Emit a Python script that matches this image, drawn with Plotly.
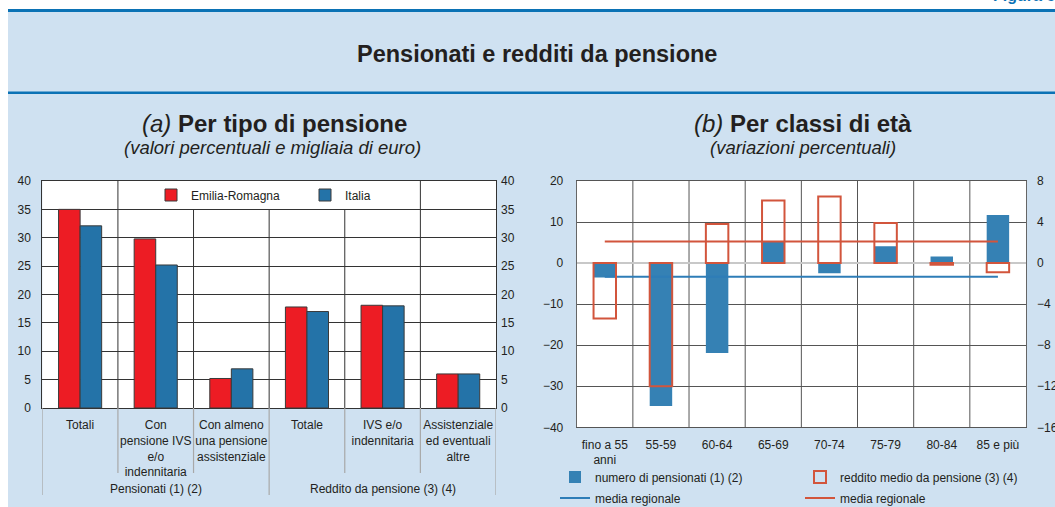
import plotly.graph_objects as go

W, H = 1055, 507

# ---------------- data: panel (a) ----------------
cat_a = ["Totali", "Con<br>pensione IVS<br>e/o<br>indennitaria", "Con almeno<br>una pensione<br>assistenziale",
         "Totale", "IVS e/o<br>indennitaria", "Assistenziale<br>ed eventuali<br>altre"]
groups_a = ["Pensionati (1) (2)", "Reddito da pensione (3) (4)"]
group_sizes = [3, 3]
emilia = [35.0, 29.8, 5.2, 17.8, 18.1, 6.0]
italia = [32.1, 25.2, 6.9, 17.0, 18.0, 6.0]

# ---------------- data: panel (b) ----------------
cat_b = ["fino a 55<br>anni", "55-59", "60-64", "65-69", "70-74", "75-79", "80-84", "85 e più"]
numero = [-3.5, -34.8, -21.9, 5.2, -2.5, 4.1, 1.6, 11.7]
reddito = [-5.4, -12.0, 3.8, 6.1, 6.5, 3.9, -0.15, -0.9]
media_numero = -3.3
media_reddito = 2.1

FONT = "Liberation Sans, Arial, sans-serif"
TXT = "#231F20"
RED = "#ED1C24"
BLUE_A = "#2473A8"
BLUE_B = "#3581B4"
RED_B = "#D2553C"
LBLUE = "#CFE1F1"
DBLUE = "#0B72B5"


def px(x):
    return x / W


def py(y):
    return 1 - y / H


fig = go.Figure()

xa = list(range(len(cat_a)))
fig.add_trace(go.Bar(x=xa, y=emilia, name="Emilia-Romagna", xaxis="x", yaxis="y",
                     marker=dict(color=RED, line=dict(color="#3A3A3A", width=1)),
                     width=0.285, offset=-0.285, legend="legend"))
fig.add_trace(go.Bar(x=xa, y=italia, name="Italia", xaxis="x", yaxis="y2",
                     marker=dict(color=BLUE_A, line=dict(color="#3A3A3A", width=1)),
                     width=0.285, offset=0.0, legend="legend"))

xb = list(range(len(cat_b)))
fig.add_trace(go.Bar(x=xb, y=numero, name="numero di pensionati (1) (2)", xaxis="x2", yaxis="y3",
                     marker=dict(color=BLUE_B, line=dict(width=0)),
                     width=0.4, offset=-0.2, legend="legend2"))
fig.add_trace(go.Bar(x=xb, y=reddito, name="reddito medio da pensione (3) (4)", xaxis="x2", yaxis="y4",
                     marker=dict(color="rgba(0,0,0,0)", line=dict(color=RED_B, width=2)),
                     width=0.4, offset=-0.2, legend="legend2"))
fig.add_trace(go.Scatter(x=xb, y=[media_numero] * len(xb), name="media regionale", xaxis="x2", yaxis="y3",
                         mode="lines", line=dict(color="#2E7DB7", width=2), legend="legend3"))
fig.add_trace(go.Scatter(x=xb, y=[media_reddito] * len(xb), name="media regionale", xaxis="x2", yaxis="y4",
                         mode="lines", line=dict(color=RED_B, width=2), legend="legend3"))

tickfont = dict(family=FONT, size=12, color=TXT)

shapes = []
# white margins and blue header lines
shapes.append(dict(type="rect", xref="paper", yref="paper", x0=0, x1=px(8), y0=0, y1=1,
                   fillcolor="white", line=dict(width=0), layer="below"))
shapes.append(dict(type="rect", xref="paper", yref="paper", x0=0, x1=1, y0=py(9), y1=1,
                   fillcolor="white", line=dict(width=0), layer="below"))
shapes.append(dict(type="rect", xref="paper", yref="paper", x0=px(8), x1=1, y0=py(12), y1=py(9),
                   fillcolor=DBLUE, line=dict(width=0), layer="below"))
shapes.append(dict(type="rect", xref="paper", yref="paper", x0=px(8), x1=1, y0=py(94), y1=py(91.5),
                   fillcolor=DBLUE, line=dict(width=0), layer="below"))

# panel (a) category separators inside the plot
for k in range(len(cat_a) - 1):
    top = 35 if 1 <= k <= 3 else 40
    shapes.append(dict(type="line", xref="x", yref="y", x0=k + 0.5, x1=k + 0.5, y0=0, y1=top,
                       line=dict(color="#333333", width=1), layer="below"))
# panel (a) separators below the axis
bounds = [0]
for g in group_sizes:
    bounds.append(bounds[-1] + g)
for k in range(len(cat_a) + 1):
    long_line = k in bounds
    shapes.append(dict(type="line", xref="x", yref="paper", x0=k - 0.5, x1=k - 0.5,
                       y0=py(408), y1=py(495 if long_line else 473),
                       line=dict(color="#A8A8A8", width=1.2)))
# panel (b) category separators
for k in range(len(cat_b) - 1):
    shapes.append(dict(type="line", xref="x2", yref="y3", x0=k + 0.5, x1=k + 0.5, y0=-40, y1=20,
                       line=dict(color="#555555", width=1), layer="below"))

annotations = []
annotations.append(dict(text="<b>Pensionati e redditi da pensione</b>", xref="paper", yref="paper",
                        x=px(537), y=py(54), xanchor="center", yanchor="middle", showarrow=False,
                        font=dict(family=FONT, size=23.5, color=TXT)))
annotations.append(dict(text="<b>Figura 6.</b>", xref="paper", yref="paper",
                        x=px(1062), y=py(6), xanchor="right", yanchor="bottom", showarrow=False,
                        font=dict(family=FONT, size=16, color=DBLUE)))
annotations.append(dict(text="<i>(a)</i> <b>Per tipo di pensione</b>", xref="paper", yref="paper",
                        x=px(274), y=py(123), xanchor="center", yanchor="middle", showarrow=False,
                        font=dict(family=FONT, size=24, color=TXT)))
annotations.append(dict(text="<i>(valori percentuali e migliaia di euro)</i>", xref="paper", yref="paper",
                        x=px(272), y=py(148), xanchor="center", yanchor="middle", showarrow=False,
                        font=dict(family=FONT, size=18.5, color=TXT)))
annotations.append(dict(text="<i>(b)</i> <b>Per classi di età</b>", xref="paper", yref="paper",
                        x=px(803), y=py(123), xanchor="center", yanchor="middle", showarrow=False,
                        font=dict(family=FONT, size=24, color=TXT)))
annotations.append(dict(text="<i>(variazioni percentuali)</i>", xref="paper", yref="paper",
                        x=px(803), y=py(148), xanchor="center", yanchor="middle", showarrow=False,
                        font=dict(family=FONT, size=18.5, color=TXT)))
start = 0
for g, n in zip(groups_a, group_sizes):
    annotations.append(dict(text=g, xref="x", yref="paper", x=start + (n - 1) / 2, y=py(489),
                            xanchor="center", yanchor="middle", showarrow=False, font=tickfont))
    start += n

legend_common = dict(orientation="h", bgcolor="rgba(0,0,0,0)", font=tickfont, xanchor="left",
                     yanchor="middle", itemwidth=30, traceorder="normal", entrywidthmode="pixels")

fig.update_layout(
    width=W, height=H, autosize=False,
    margin=dict(l=0, r=0, t=0, b=0, pad=0, autoexpand=False),
    paper_bgcolor=LBLUE, plot_bgcolor="white",
    font=dict(family=FONT, size=12, color=TXT),
    barmode="overlay",
    shapes=shapes, annotations=annotations,
    legend=dict(x=px(151), y=py(195), entrywidth=109, **legend_common),
    legend2=dict(x=px(555), y=py(477), entrywidth=200, **legend_common),
    legend3=dict(x=px(555), y=py(498), entrywidth=200, **legend_common),
    xaxis=dict(domain=[px(42.3), px(496)], anchor="y", range=[-0.5, len(cat_a) - 0.5],
               tickvals=xa, ticktext=cat_a, showgrid=False, zeroline=False, showline=True,
               linecolor="#333333", linewidth=1, mirror=True, ticks="", tickfont=tickfont,
               ticklabelstandoff=6, automargin=False),
    yaxis=dict(domain=[py(408), py(181)], anchor="x", range=[0, 40], dtick=5, tick0=0,
               showgrid=True, gridcolor="#333333", gridwidth=1, zeroline=False, showline=True,
               linecolor="#333333", mirror=True, ticks="", tickfont=tickfont, ticklabelstandoff=8,
               automargin=False),
    yaxis2=dict(overlaying="y", side="right", anchor="x", range=[0, 40], dtick=5, tick0=0,
                showgrid=False, zeroline=False, showline=False, ticks="", tickfont=tickfont,
                ticklabelstandoff=4, automargin=False),
    xaxis2=dict(domain=[px(576.7), px(1026)], anchor="y3", range=[-0.5, len(cat_b) - 0.5],
                tickvals=xb, ticktext=cat_b, showgrid=False, zeroline=False, showline=True,
                linecolor="#555555", linewidth=1, mirror=True, ticks="", tickfont=tickfont,
                ticklabelstandoff=6, automargin=False),
    yaxis3=dict(domain=[py(427.3), py(181)], anchor="x2", range=[-40, 20], dtick=10, tick0=0,
                showgrid=True, gridcolor="#555555", gridwidth=1, zeroline=True,
                zerolinecolor="#C8C8C8", zerolinewidth=1.5, showline=True, linecolor="#666666",
                mirror=True, ticks="", tickfont=tickfont, ticklabelstandoff=10, automargin=False),
    yaxis4=dict(overlaying="y3", side="right", anchor="x2", range=[-16, 8], dtick=4, tick0=0,
                showgrid=False, zeroline=False, showline=False, ticks="", tickfont=tickfont,
                ticklabelstandoff=10, automargin=False),
)

fig.write_html("out.html", config={"displayModeBar": False},
               post_script="document.body.style.margin='0';document.body.style.padding='0';"
                           "document.documentElement.style.overflow='hidden';")
